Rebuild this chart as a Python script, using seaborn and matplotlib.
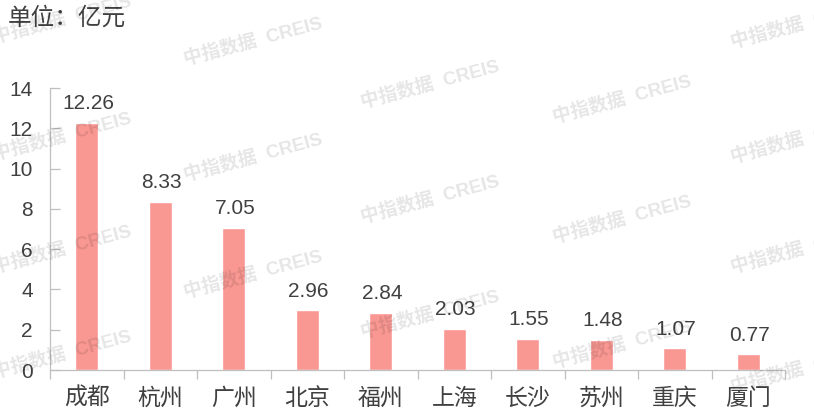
import matplotlib
matplotlib.use("Agg")
import matplotlib.pyplot as plt
import seaborn as sns
import pandas as pd
from matplotlib.ticker import FixedLocator

# Data
cities = ["成都", "杭州", "广州", "北京", "福州", "上海", "长沙", "苏州", "重庆", "厦门"]
amounts = [12.26, 8.33, 7.05, 2.96, 2.84, 2.03, 1.55, 1.48, 1.07, 0.77]
unit_label = "单位：亿元"
watermark = "中指数据  CREIS"

df = pd.DataFrame({"city": cities, "amount": amounts})

sns.set_theme(style="white")
plt.rcParams["font.family"] = ["Liberation Sans", "Noto Sans CJK SC", "DejaVu Sans"]

text_color = "#404040"
axis_color = "#BFBFBF"
bar_color = "#F99792"

fig = plt.figure(figsize=(8.14, 4.2), dpi=100)
ax = fig.add_axes([50 / 814, 50 / 420, 735 / 814, 282 / 420])

sns.barplot(data=df, x="city", y="amount", color=bar_color, width=0.31,
            saturation=1, ax=ax)

ax.set_xlim(-0.5, len(cities) - 0.5)
ax.set_ylim(0, 14)
ax.set_yticks(range(0, 15, 2))
ax.set_xlabel("")
ax.set_ylabel("")

# value labels
for i, v in enumerate(amounts):
    ax.annotate(f"{v:.2f}", (i, v), xytext=(1, 7), textcoords="offset points",
                ha="center", va="bottom", fontsize=15, color=text_color)

# spines and ticks
for side in ["top", "right"]:
    ax.spines[side].set_visible(False)
for side in ["left", "bottom"]:
    ax.spines[side].set_color(axis_color)
    ax.spines[side].set_linewidth(0.9)

ax.tick_params(axis="y", direction="in", length=7.5, width=0.9, color=axis_color,
               pad=12.5, labelsize=15, labelcolor=text_color, left=True)
ax.tick_params(axis="x", which="major", length=0, pad=12, labelsize=16.5,
               labelcolor=text_color, bottom=True)
ax.xaxis.set_minor_locator(FixedLocator([i - 0.5 for i in range(len(cities) + 1)]))
ax.tick_params(axis="x", which="minor", direction="out", length=6.5, width=0.9,
               color=axis_color, bottom=True)

# unit label
fig.text(8 / 814, 1 - 18 / 420, unit_label, fontsize=17, color=text_color,
         ha="left", va="center")

# watermark tiles (pixel centres)
wm_x = [62, 62, 62, 62, 253, 253, 253, 430, 430, 430, 622, 622, 622, 800, 800, 800, 800]
wm_y = [20, 137, 250, 355, 42, 158, 275, 85, 200, 315, 100, 220, 345, 25, 140, 250, 370]
for x, y in zip(wm_x, wm_y):
    fig.text(x / 814, 1 - y / 420, watermark, fontsize=13.5, fontweight="bold",
             color="black", alpha=0.1, rotation=15, ha="center", va="center",
             zorder=10)

fig.savefig("out.png", dpi=100, facecolor="white")
